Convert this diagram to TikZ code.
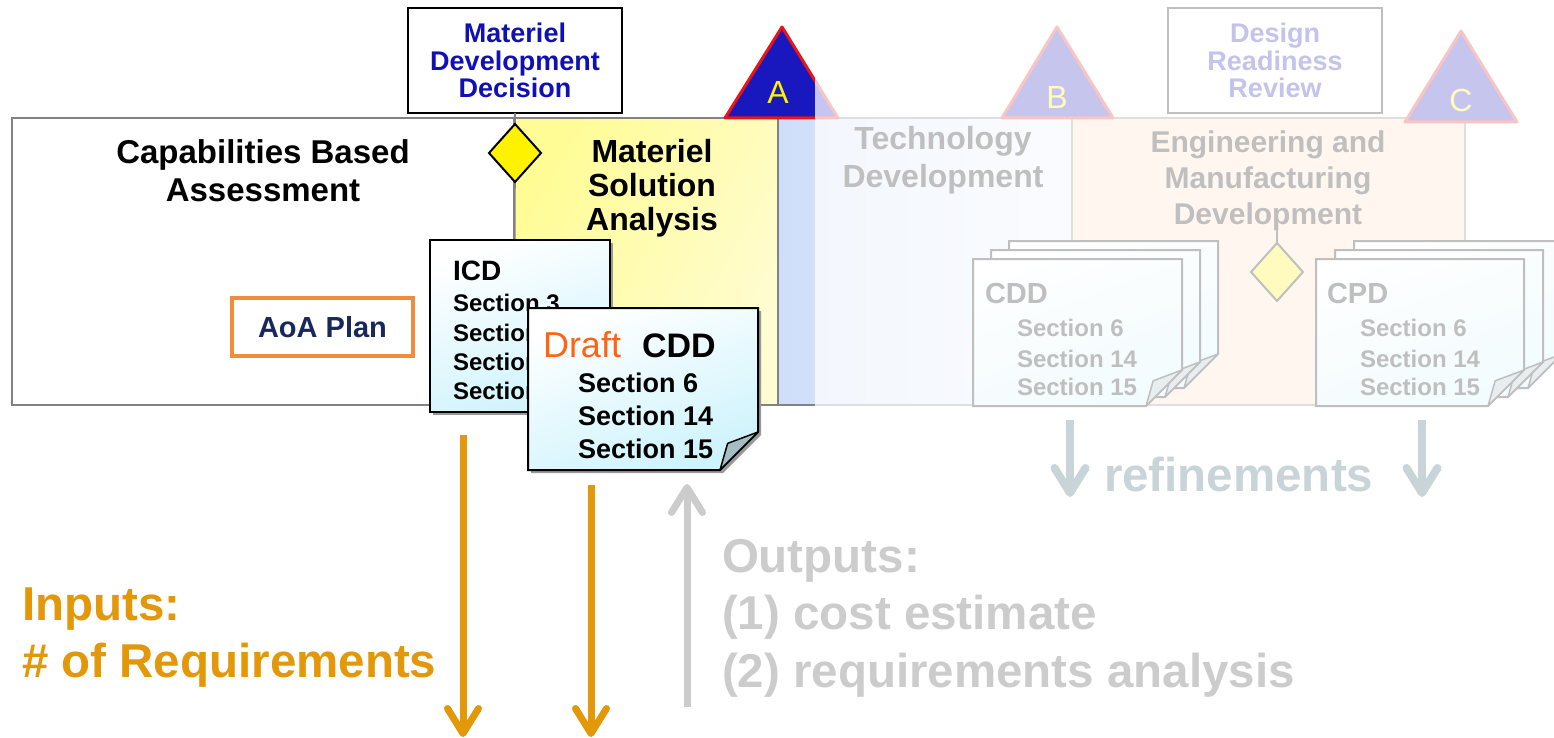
\documentclass[tikz,border=0pt]{standalone}
\usepackage{fontspec}
\setmainfont{Liberation Sans}
\usetikzlibrary{arrows.meta,shapes.geometric,calc,shadows}
\definecolor{mddblue}{RGB}{16,16,180}
\definecolor{triblue}{RGB}{24,24,190}
\definecolor{trired}{RGB}{235,20,20}
\definecolor{aoaorange}{RGB}{240,140,60}
\definecolor{aoatext}{RGB}{25,40,90}
\definecolor{draftorange}{RGB}{255,100,20}
\definecolor{inorange}{RGB}{226,152,8}
\definecolor{outgray}{RGB}{204,204,204}
\definecolor{refgray}{RGB}{200,212,216}
\definecolor{framegray}{RGB}{130,130,130}
\definecolor{docfill}{RGB}{205,243,252}
\definecolor{foldfill}{RGB}{165,190,196}
\definecolor{tdblue}{RGB}{206,222,250}
\definecolor{emdpeach}{RGB}{255,222,195}
\definecolor{msayellow}{RGB}{255,252,150}
\definecolor{msalight}{RGB}{255,252,210}
\newcommand{\fsz}[2]{\fontsize{#1pt}{#2pt}\selectfont}
% name, x, y, w, h, fold, options
\newcommand{\docpage}[7]{%
  \node[minimum width=#4pt, minimum height=#5pt, anchor=north west] (#1) at (#2,#3) {};
  \path[#7] (#1.north west) -- (#1.north east) -- ([yshift=#6pt]#1.south east)
     -- ([xshift=-#6pt]#1.south east) -- (#1.south west) -- cycle;
  \filldraw[foldstyle] ([xshift=-#6pt]#1.south east)
     -- ([shift={({-0.8*#6},{-0.7*#6})}]#1.south east)
     -- ([yshift=#6pt]#1.south east) -- cycle;
}
\begin{document}
\begin{tikzpicture}[x=1pt,y=-1pt,
  every node/.style={inner sep=0pt,outer sep=0pt},
  phase/.style={anchor=north west, draw=framegray, line width=1.5pt, minimum height=287pt},
  phasetext/.style={font=\bfseries\fsz{33}{38}, align=center},
  decision/.style={diamond, draw=black, line width=2pt, fill=yellow, minimum width=52pt, minimum height=58pt},
  review/.style={draw=black, line width=2pt, fill=white, minimum width=214pt, minimum height=105pt,
     align=center, font=\bfseries\fsz{27}{27.5}, text=mddblue},
  milestone/.style={fill=triblue, draw=trired, line width=3pt, line join=round},
  msletter/.style={text=yellow, font=\fsz{32}{32}},
  pagestyle/.style={draw=black, line width=2pt, top color=white, middle color=white!65!docfill, bottom color=docfill, shading angle=20},
  frontpage/.style={pagestyle, drop shadow={shadow xshift=3pt, shadow yshift=-3pt, fill=black!40, opacity=1}},
  foldstyle/.style={draw=black, line width=1.5pt, fill=foldfill, line join=round},
  doctitle/.style={anchor=base west, font=\bfseries\fsz{29}{29}},
  secttxt/.style={anchor=base west, font=\bfseries\fsz{24}{24}},
  bigtxt/.style={anchor=base west, font=\bfseries\fsz{47.5}{47.5}},
  flowarrow/.style={line width=7pt, -{Straight Barb[length=25pt,width=31pt,round]}},
]
\useasboundingbox (0,0) rectangle (1554,738);

% ---------- phase boxes ----------
\node[phase, minimum width=294pt, left color=tdblue, right color=tdblue!35!white] (td) at (778,118) {};
\node[phase, minimum width=393pt, fill=emdpeach] (emd) at (1072,118) {};
\node[phase, minimum width=264pt, left color=msayellow, right color=msalight, shading angle=60] (msa) at (514,118) {};
\node[phase, minimum width=502pt, fill=white] (cba) at (12,118) {};

\node[phasetext] (cbat) at (263,171) {Capabilities Based\\Assessment};
\node[phasetext, font=\bfseries\fsz{32}{34}] (msat) at (652,188) {Materiel\\Solution\\Analysis};
\node[phasetext, font=\bfseries\fsz{32}{38}] (tdt) at (943,160) {Technology\\Development};
\node[phasetext, font=\bfseries\fsz{30}{36}] (emdt) at (1268,181) {Engineering and\\Manufacturing\\Development};

% ---------- reviews / decisions ----------
\node[review] (mdd) at (515,60.5) {Materiel\\Development\\Decision};
\draw[framegray, line width=2pt] (mdd.south) -- (cba.south east);
\node[decision] (mddd) at (515,153) {};

\node[review] (drr) at (1275,60.5) {Design\\Readiness\\Review};
\coordinate (drrtick) at (1277,228);
\node[decision] (emdd) at (1277,272) {};
\draw[black, line width=2pt] (drrtick) -- (emdd.north);

% ---------- milestones ----------
\filldraw[milestone] (725,118) -- (782,27) -- (838,118) -- cycle;
\node[msletter] (msA) at (778,92) {A};
\filldraw[milestone] (1002,118) -- (1057,27) -- (1113,118) -- cycle;
\node[msletter] (msB) at (1057,97) {B};
\filldraw[milestone] (1405,122) -- (1461,31) -- (1517,122) -- cycle;
\node[msletter] (msC) at (1461,100) {C};

% ---------- AoA plan ----------
\node[draw=aoaorange, line width=4pt, fill=white, minimum width=181pt, minimum height=58pt,
      font=\bfseries\fsz{29}{29}, text=aoatext] (aoa) at (322.5,327) {AoA Plan};

% ---------- ICD ----------
\node[frontpage, anchor=north west, minimum width=180pt, minimum height=172pt] (icd) at (430,240) {};
\node[doctitle, font=\bfseries\fsz{28}{28}] (icdt) at (453,280) {ICD};
\node[secttxt] (icds1) at (453,311) {Section 3};
\node[secttxt] (icds2) at (453,341) {Section};
\node[secttxt] (icds3) at (453,370) {Section};
\node[secttxt] (icds4) at (453,399) {Section};

% ---------- Draft CDD ----------
\docpage{draft}{528}{308}{230}{162}{38}{frontpage}
\node[anchor=base west, text=draftorange, font=\fsz{36}{36}] (draftw) at (543,357) {Draft};
\node[doctitle, font=\bfseries\fsz{34}{34}] (draftc) at (642,357) {CDD};
\node[secttxt, font=\bfseries\fsz{27}{27}] (dfs1) at (578,392) {Section 6};
\node[secttxt, font=\bfseries\fsz{27}{27}] (dfs2) at (578,425) {Section 14};
\node[secttxt, font=\bfseries\fsz{27}{27}] (dfs3) at (578,458) {Section 15};

% ---------- CDD stack ----------
\docpage{cddc}{1009}{241}{209}{147}{34}{pagestyle}
\docpage{cddb}{991}{250}{209}{147}{35}{pagestyle}
\docpage{cdda}{973}{259}{209}{147}{36}{pagestyle}
\node[doctitle] (cddt) at (985,303) {CDD};
\node[secttxt] (cdds1) at (1017,336) {Section 6};
\node[secttxt] (cdds2) at (1017,367) {Section 14};
\node[secttxt] (cdds3) at (1017,395) {Section 15};

% ---------- CPD stack ----------
\docpage{cpdc}{1354}{241}{208}{147}{34}{pagestyle}
\docpage{cpdb}{1335}{250}{208}{147}{35}{pagestyle}
\docpage{cpda}{1316}{259}{208}{147}{36}{pagestyle}
\node[doctitle] (cpdt) at (1327,303) {CPD};
\node[secttxt] (cpds1) at (1360,336) {Section 6};
\node[secttxt] (cpds2) at (1360,367) {Section 14};
\node[secttxt] (cpds3) at (1360,395) {Section 15};

% ---------- fading of the later phases ----------
\fill[white, opacity=0.75] (815,0) rectangle (1554,418);

% ---------- refinements ----------
\node[bigtxt, text=refgray] (refn) at (1104,491) {refinements};
\coordinate (rl1) at (1070,420); \coordinate (rl2) at (1070,497);
\coordinate (rr1) at (1422,420); \coordinate (rr2) at (1422,497);
\draw[flowarrow, draw=refgray, line width=8pt] (rl1) -- (rl2);
\draw[flowarrow, draw=refgray, line width=8pt] (rr1) -- (rr2);

% ---------- inputs ----------
\node[bigtxt, text=inorange] (inp1) at (22,620) {Inputs:};
\node[bigtxt, text=inorange] (inp2) at (22,677) {\# of Requirements};
\coordinate (ia1) at (463,435); \coordinate (ia2) at (463,737);
\coordinate (ib1) at (591,485); \coordinate (ib2) at (591,737);
\draw[flowarrow, draw=inorange] (ia1) -- (ia2);
\draw[flowarrow, draw=inorange] (ib1) -- (ib2);

% ---------- outputs ----------
\coordinate (oa1) at (687,707); \coordinate (oa2) at (687,484);
\draw[flowarrow, draw=outgray] (oa1) -- (oa2);
\node[bigtxt, text=outgray] (out1) at (722,572) {Outputs:};
\node[bigtxt, text=outgray] (out2) at (722,629) {(1) cost estimate};
\node[bigtxt, text=outgray] (out3) at (722,687) {(2) requirements analysis};
\end{tikzpicture}
\end{document}
